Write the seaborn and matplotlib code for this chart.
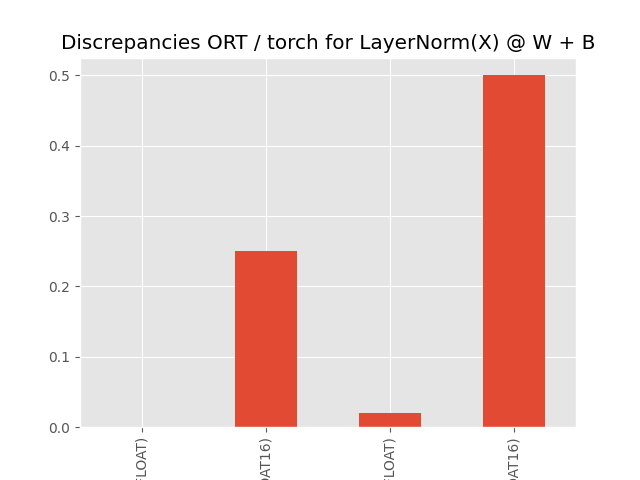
import pandas as pd
import matplotlib
matplotlib.use("Agg")
import matplotlib.pyplot as plt
import seaborn as sns

# Values
labels = ["CPU (FLOAT)", "CPU (FLOAT16)", "CUDA (FLOAT)", "CUDA (FLOAT16)"]
values = [0.0, 0.25, 0.02, 0.5]

plt.style.use("ggplot")
df = pd.DataFrame({"provider": labels, "discrepancy": values})

fig, ax = plt.subplots(figsize=(6.4, 4.8), dpi=100)
sns.barplot(data=df, x="provider", y="discrepancy", color="#E24A33",
            saturation=1, width=0.5, ax=ax)
ax.set_title("Discrepancies ORT / torch for LayerNorm(X) @ W + B")
ax.set_xlabel("")
ax.set_ylabel("")
ax.tick_params(axis="x", labelrotation=90)
ax.set_xlim(-0.5, len(labels) - 0.5)
# seaborn turns off the grid along the category axis, ggplot style has it
ax.grid(True, axis="x", color="white")
ax.set_axisbelow(True)

fig.savefig("out.png", dpi=100)
